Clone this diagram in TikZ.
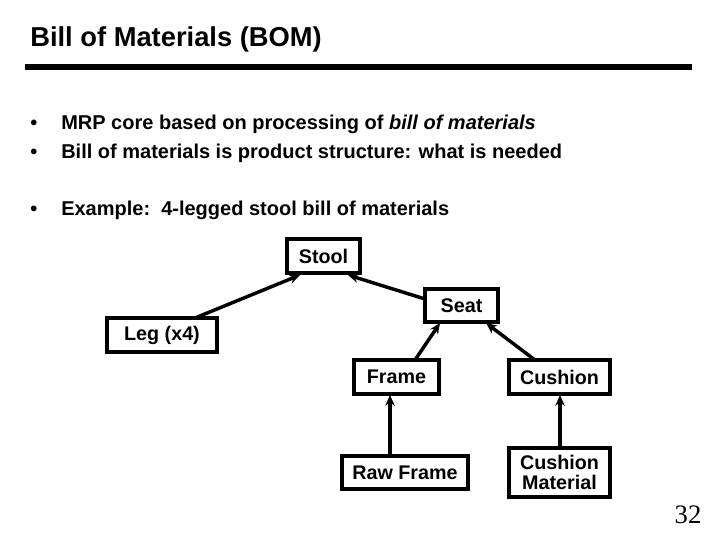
\documentclass[tikz,border=0pt]{standalone}
\usepackage{fontspec}
\setmainfont{Liberation Sans}
\usetikzlibrary{arrows.meta}
\begin{document}
\begin{tikzpicture}[x=0.75pt,y=-0.75pt,
  box/.style={draw,line width=2.4pt,inner sep=0pt,font=\bfseries\fontsize{14.8}{15}\selectfont,align=center},
  arr/.style={line width=2.6pt,-{Stealth[length=8pt,width=7pt]}},
  txt/.style={anchor=base west,inner sep=0pt,font=\bfseries\fontsize{15}{17}\selectfont}]
\useasboundingbox (0,0) rectangle (720,540);
\node[anchor=base west,inner sep=0pt,font=\bfseries\fontsize{20.5}{22}\selectfont] (title) at (30,46) {Bill of Materials (BOM)};
\fill (25,64) rectangle (692,70);
\node[txt] (b1) at (30,129) {•\hspace{18pt}MRP core based on processing of \textit{bill of materials}};
\node[txt] (b2) at (30,158) {•\hspace{18pt}Bill of materials is product structure: what is needed};
\node[txt] (b3) at (30,215) {•\hspace{18pt}Example:\ \ 4-legged stool bill of materials};
\node[box,minimum width=54.75pt,minimum height=25.5pt] (stool) at (323.5,256) {Stool};
\node[box,minimum width=54.75pt,minimum height=24.75pt] (seat) at (461.5,305.5) {Seat};
\node[box,minimum width=82.5pt,minimum height=25.5pt] (leg) at (162,335) {Leg (x4)};
\node[box,minimum width=63.75pt,minimum height=25.5pt] (frame) at (396.5,377) {Frame};
\node[box,minimum width=75.75pt,minimum height=25.5pt] (cushion) at (559.5,377) {Cushion};
\node[box,minimum width=94.5pt,minimum height=24.75pt] (raw) at (405,472.5) {Raw Frame};
\node[box,minimum width=75.75pt,minimum height=36.75pt,font=\bfseries\fontsize{14.8}{15.5}\selectfont] (cm) at (559.5,472.5) {Cushion\\Material};
\coordinate (s1) at (300,275);
\coordinate (s2) at (348,275);
\coordinate (e1) at (440,323);
\coordinate (e2) at (486,323);
\draw[arr] (195,318) -- (s1);
\draw[arr] (425,299) -- (s2);
\draw[arr] (415,360) -- (e1);
\draw[arr] (535,360) -- (e2);
\draw[arr] (raw.north -| 390,0) -- (390,395);
\draw[arr] (cm.north -| 560,0) -- (560,395);
\node[anchor=base,inner sep=0pt,font=\fontsize{20}{22}\selectfont] (pg) at (688,523) {\fontspec{Liberation Serif}32};
\end{tikzpicture}
\end{document}
